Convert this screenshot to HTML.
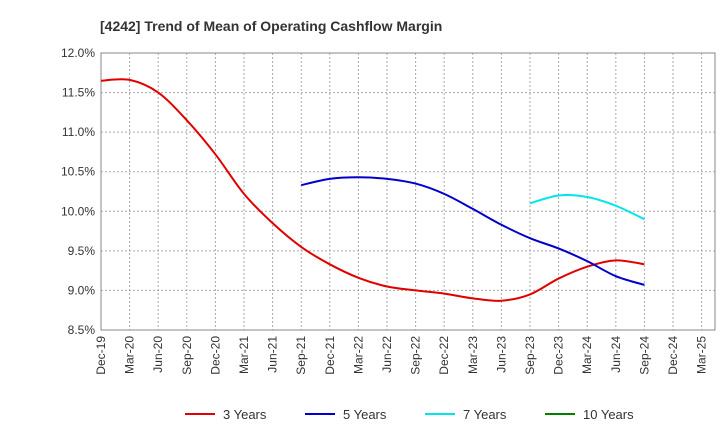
<!DOCTYPE html>
<html><head><meta charset="utf-8"><style>
body{margin:0;background:#fff;font-family:"Liberation Sans",sans-serif;}
svg text{font-family:"Liberation Sans",sans-serif;}
</style></head><body>
<svg id="c" width="720" height="440"></svg>
<script>
const categories=["Dec-19","Mar-20","Jun-20","Sep-20","Dec-20","Mar-21","Jun-21","Sep-21","Dec-21","Mar-22","Jun-22","Sep-22","Dec-22","Mar-23","Jun-23","Sep-23","Dec-23","Mar-24","Jun-24","Sep-24","Dec-24","Mar-25"];
const yTicks=[8.5,9.0,9.5,10.0,10.5,11.0,11.5,12.0];
const s3=[11.65,11.66,11.5,11.15,10.72,10.22,9.85,9.55,9.33,9.16,9.05,9.0,8.96,8.9,8.87,8.95,9.15,9.3,9.38,9.33];
const s5=[10.33,10.41,10.43,10.41,10.35,10.22,10.03,9.83,9.66,9.53,9.37,9.18,9.07];
const s7=[10.1,10.2,10.18,10.07,9.9];
const s10=[];
const start3=0,start5=7,start7=15,start10=0;
const svg=document.getElementById('c');const NS='http://www.w3.org/2000/svg';
const L=101,R=715,T=53,B=330,STEP=28.6;
const x=i=>L+i*STEP;
const y=v=>B-(v-8.5)/(12-8.5)*(B-T);
function mk(t,a,p){const e=document.createElementNS(NS,t);for(const k in a)e.setAttribute(k,a[k]);(p||svg).appendChild(e);return e;}
const title=mk('text',{x:100,y:31,'font-size':14,'font-weight':'bold',fill:'#333'});title.textContent='[4242]  Trend of Mean of Operating Cashflow Margin';


yTicks.forEach(v=>{const g=mk('line',{x1:L,x2:R,y1:y(v),y2:y(v),stroke:'#aaa','stroke-dasharray':'2,2'});


const t=mk('text',{x:L-6,y:y(v)+4,'font-size':12,'text-anchor':'end',fill:'#333'});t.textContent=v.toFixed(1)+'%';

});
categories.forEach((c,i)=>{const g=mk('line',{x1:x(i),x2:x(i),y1:T,y2:B,stroke:'#aaa','stroke-dasharray':'2,2'});


const t=mk('text',{transform:`translate(${x(i)+4},${B+6}) rotate(-90)`,'font-size':12,'text-anchor':'end',fill:'#333'});t.textContent=c;

});
const fr=mk('rect',{x:L,y:T,width:R-L,height:B-T,fill:'none',stroke:'#888'});


function path(vals,st){const p=vals.map((v,i)=>[x(st+i),y(v)]);if(p.length<2)return '';let d=`M${p[0][0]},${p[0][1]}`;
for(let i=0;i<p.length-1;i++){const p0=p[i-1]||p[i],p1=p[i],p2=p[i+1],p3=p[i+2]||p2;
d+=`C${p1[0]+(p2[0]-p0[0])/6},${p1[1]+(p2[1]-p0[1])/6} ${p2[0]-(p3[0]-p1[0])/6},${p2[1]-(p3[1]-p1[1])/6} ${p2[0]},${p2[1]}`;}return d;}
[[s3,start3,'#e00000','line-3-years'],[s5,start5,'#0000cc','line-5-years'],[s7,start7,'#00e5ee','line-7-years'],[s10,start10,'#008000','line-10-years']].forEach(([s,st,c,n])=>{
if(s.length<2)return;const e=mk('path',{d:path(s,st),fill:'none',stroke:c,'stroke-width':2});

});
[['3 Years','#e00000',185],['5 Years','#0000cc',305],['7 Years','#00e5ee',425],['10 Years','#008000',545]].forEach(([t,c,lx])=>{
const g=mk('g',{});


mk('line',{x1:lx,x2:lx+30,y1:414,y2:414,stroke:c,'stroke-width':2},g);
const tt=mk('text',{x:lx+38,y:419,'font-size':13,fill:'#333'},g);tt.textContent=t;});
</script></body></html>
